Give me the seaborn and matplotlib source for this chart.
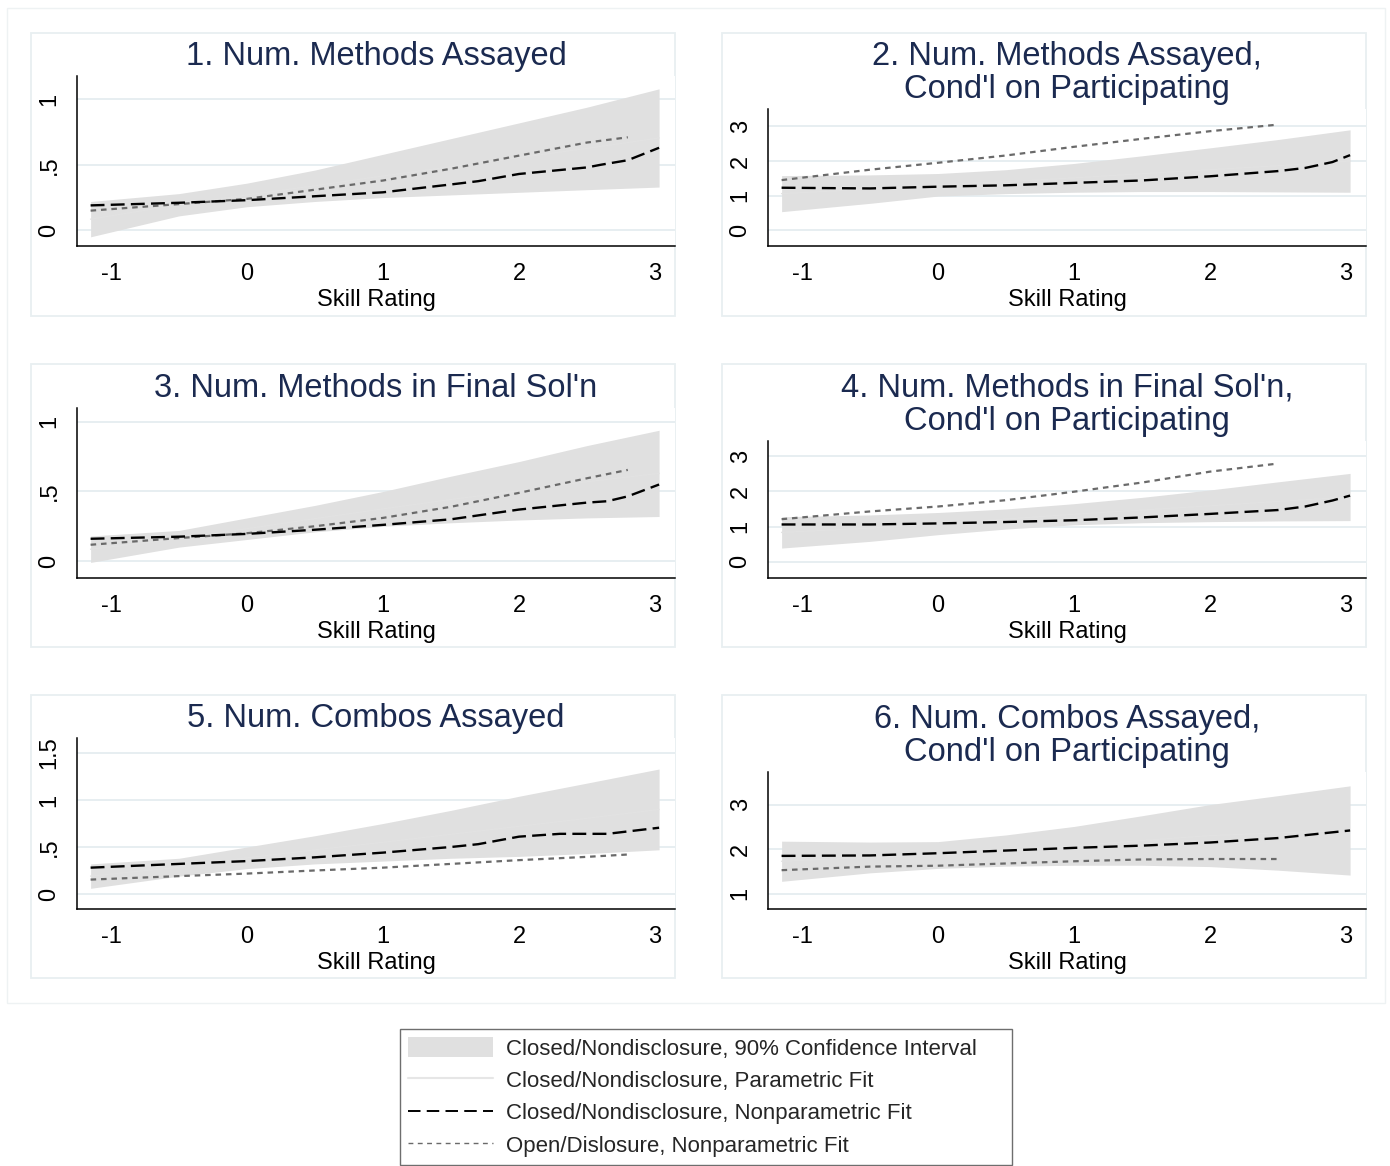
import numpy as np
import pandas as pd
import matplotlib
matplotlib.use("Agg")
import matplotlib.pyplot as plt
import seaborn as sns
from matplotlib.patches import Patch, Rectangle
from matplotlib.lines import Line2D

sns.set_style("white")
plt.rcParams["font.family"] = ["Liberation Sans", "DejaVu Sans"]
plt.rcParams["lines.scale_dashes"] = False

# ---------------- data ----------------
titles = [
    "1. Num. Methods Assayed",
    "2. Num. Methods Assayed,\nCond'l on Participating",
    "3. Num. Methods in Final Sol'n",
    "4. Num. Methods in Final Sol'n,\nCond'l on Participating",
    "5. Num. Combos Assayed",
    "6. Num. Combos Assayed,\nCond'l on Participating",
]
x_label = "Skill Rating"
x_ticks = [-1, 0, 1, 2, 3]
x_ticklabels = ["-1", "0", "1", "2", "3"]

y_ticks_1 = [0, 0.5, 1];        y_ticklabels_1 = ["0", ".5", "1"]
y_ticks_2 = [0, 1, 2, 3];       y_ticklabels_2 = ["0", "1", "2", "3"]
y_ticks_3 = [0, 0.5, 1];        y_ticklabels_3 = ["0", ".5", "1"]
y_ticks_4 = [0, 1, 2, 3];       y_ticklabels_4 = ["0", "1", "2", "3"]
y_ticks_5 = [0, 0.5, 1, 1.5];   y_ticklabels_5 = ["0", ".5", "1", "1.5"]
y_ticks_6 = [1, 2, 3];          y_ticklabels_6 = ["1", "2", "3"]

# 90% CI of the closed/nondisclosure parametric fit
ci_x = [-1.15, -0.5, 0.0, 0.5, 1.0, 1.5, 2.0, 2.5, 3.03]
ci_upper_1 = [0.22, 0.28, 0.36, 0.46, 0.58, 0.70, 0.82, 0.94, 1.08]
ci_lower_1 = [-0.05, 0.11, 0.18, 0.22, 0.25, 0.27, 0.29, 0.31, 0.33]
ci_upper_2 = [1.58, 1.60, 1.64, 1.75, 1.93, 2.15, 2.38, 2.62, 2.90]
ci_lower_2 = [0.54, 0.78, 0.99, 1.06, 1.10, 1.12, 1.12, 1.11, 1.10]
ci_upper_3 = [0.18, 0.22, 0.31, 0.40, 0.50, 0.61, 0.715, 0.83, 0.94]
ci_lower_3 = [-0.01, 0.10, 0.155, 0.21, 0.25, 0.275, 0.295, 0.31, 0.32]
ci_upper_4 = [1.28, 1.33, 1.40, 1.50, 1.65, 1.83, 2.04, 2.27, 2.51]
ci_lower_4 = [0.39, 0.58, 0.77, 0.93, 1.05, 1.11, 1.14, 1.16, 1.17]
ci_upper_5 = [0.32, 0.38, 0.50, 0.62, 0.75, 0.89, 1.04, 1.18, 1.33]
ci_lower_5 = [0.06, 0.19, 0.27, 0.32, 0.35, 0.38, 0.40, 0.43, 0.47]
ci_upper_6 = [2.18, 2.16, 2.17, 2.32, 2.51, 2.75, 3.00, 3.20, 3.42]
ci_lower_6 = [1.28, 1.47, 1.57, 1.62, 1.64, 1.64, 1.61, 1.53, 1.42]

# closed/nondisclosure nonparametric fit
closed_x_1 = [-1.15, -0.5, 0.0, 0.5, 1.0, 1.5, 1.7, 2.0, 2.5, 2.6, 2.8, 3.03]
closed_y_1 = [0.19, 0.21, 0.23, 0.26, 0.29, 0.35, 0.375, 0.43, 0.48, 0.50, 0.535, 0.63]
closed_x_2 = [-1.15, -0.5, 0.0, 0.5, 1.0, 1.5, 2.0, 2.5, 2.7, 2.9, 3.03]
closed_y_2 = [1.23, 1.21, 1.26, 1.30, 1.37, 1.44, 1.56, 1.71, 1.80, 1.97, 2.17]
closed_x_3 = [-1.15, -0.5, 0.0, 0.5, 1.0, 1.5, 2.0, 2.5, 2.65, 2.8, 3.03]
closed_y_3 = [0.16, 0.175, 0.195, 0.225, 0.26, 0.30, 0.37, 0.42, 0.43, 0.465, 0.55]
closed_x_4 = [-1.15, -0.5, 0.0, 0.5, 1.0, 1.5, 2.0, 2.5, 2.7, 2.9, 3.03]
closed_y_4 = [1.06, 1.06, 1.09, 1.13, 1.18, 1.26, 1.36, 1.47, 1.57, 1.74, 1.88]
closed_x_5 = [-1.15, -0.5, 0.0, 0.5, 1.0, 1.5, 1.7, 2.0, 2.3, 2.65, 3.03]
closed_y_5 = [0.28, 0.32, 0.35, 0.39, 0.44, 0.50, 0.53, 0.61, 0.64, 0.64, 0.705]
closed_x_6 = [-1.15, -0.5, 0.0, 0.5, 1.0, 1.5, 2.0, 2.5, 3.03]
closed_y_6 = [1.85, 1.86, 1.91, 1.97, 2.03, 2.08, 2.15, 2.25, 2.42]

# open/disclosure nonparametric fit
open_x_1 = [-1.15, -0.5, 0.0, 0.5, 1.0, 1.5, 2.0, 2.5, 2.8]
open_y_1 = [0.15, 0.20, 0.24, 0.31, 0.38, 0.47, 0.57, 0.67, 0.71]
open_x_2 = [-1.15, -0.5, 0.0, 0.5, 1.0, 1.5, 2.0, 2.5]
open_y_2 = [1.45, 1.75, 1.95, 2.16, 2.41, 2.64, 2.86, 3.05]
open_x_3 = [-1.15, -0.5, 0.0, 0.5, 1.0, 1.5, 2.0, 2.5, 2.8]
open_y_3 = [0.117, 0.165, 0.20, 0.25, 0.31, 0.39, 0.49, 0.595, 0.655]
open_x_4 = [-1.15, -0.5, 0.0, 0.5, 1.0, 1.5, 2.0, 2.5]
open_y_4 = [1.21, 1.43, 1.57, 1.75, 1.99, 2.25, 2.56, 2.79]
open_x_5 = [-1.15, -0.5, 0.0, 0.5, 1.0, 1.5, 2.0, 2.5, 2.8]
open_y_5 = [0.153, 0.19, 0.217, 0.25, 0.28, 0.32, 0.36, 0.395, 0.42]
open_x_6 = [-1.15, -0.5, 0.0, 0.5, 1.0, 1.5, 2.0, 2.5]
open_y_6 = [1.53, 1.61, 1.63, 1.68, 1.73, 1.77, 1.78, 1.78]

legend_labels = [
    "Closed/Nondisclosure, 90% Confidence Interval",
    "Closed/Nondisclosure, Parametric Fit",
    "Closed/Nondisclosure, Nonparametric Fit",
    "Open/Dislosure, Nonparametric Fit",
]

panels = [
    (titles[0], ci_upper_1, ci_lower_1, closed_x_1, closed_y_1, open_x_1, open_y_1, y_ticks_1, y_ticklabels_1),
    (titles[1], ci_upper_2, ci_lower_2, closed_x_2, closed_y_2, open_x_2, open_y_2, y_ticks_2, y_ticklabels_2),
    (titles[2], ci_upper_3, ci_lower_3, closed_x_3, closed_y_3, open_x_3, open_y_3, y_ticks_3, y_ticklabels_3),
    (titles[3], ci_upper_4, ci_lower_4, closed_x_4, closed_y_4, open_x_4, open_y_4, y_ticks_4, y_ticklabels_4),
    (titles[4], ci_upper_5, ci_lower_5, closed_x_5, closed_y_5, open_x_5, open_y_5, y_ticks_5, y_ticklabels_5),
    (titles[5], ci_upper_6, ci_lower_6, closed_x_6, closed_y_6, open_x_6, open_y_6, y_ticks_6, y_ticklabels_6),
]

# ---------------- layout (pixels) ----------------
W, H = 1390, 1166
fig = plt.figure(figsize=(W / 100, H / 100), dpi=100)
fig.patch.set_facecolor("white")

ax_px = [
    (77, 76, 675, 246), (768, 109, 1366, 246),
    (77, 408, 675, 578), (768, 441, 1366, 578),
    (77, 738, 675, 909), (768, 772, 1366, 909),
]
ylims = [(-0.12, 1.178), (-0.45, 3.5), (-0.122, 1.10), (-0.46, 3.43), (-0.16, 1.66), (0.66, 3.73)]
box_px = [
    (31, 33, 675, 316), (722, 33, 1366, 316),
    (31, 364, 675, 647), (722, 364, 1366, 647),
    (31, 695, 675, 978), (722, 695, 1366, 978),
]

def frac_rect(x0, y0, x1, y1):
    return [x0 / W, 1 - y1 / H, (x1 - x0) / W, (y1 - y0) / H]

# outer graph border and panel borders
fig.add_artist(Rectangle((7 / W, 1 - 1003 / H), 1378 / W, 995 / H, transform=fig.transFigure,
                         fill=False, edgecolor="#eef2f3", lw=1.0, zorder=0))
for (x0, y0, x1, y1) in box_px:
    fig.add_artist(Rectangle((x0 / W, 1 - y1 / H), (x1 - x0) / W, (y1 - y0) / H,
                             transform=fig.transFigure, fill=False,
                             edgecolor="#e8eff1", lw=1.3, zorder=0))

band_color = "#e0e0e0"
param_color = "#e2e2e2"
title_color = "#1b2a50"
open_color = "#6a6a6a"
closed_dash = (0, (10, 4.5))
open_dash = (0, (4, 3.5))

for i, (title, up, lo, cx, cy, ox, oy, yt, ytl) in enumerate(panels):
    ax = fig.add_axes(frac_rect(*ax_px[i]))
    ax.set_facecolor("white")
    ax.set_xlim(-1.25, 3.147)
    ax.set_ylim(*ylims[i])

    for t in yt:
        ax.axhline(t, color="#e5edf0", lw=1.3, zorder=0)

    ax.fill_between(ci_x, lo, up, color=band_color, lw=0, zorder=1)
    mid = [(a + b) / 2 for a, b in zip(up, lo)]
    df_par = pd.DataFrame({"skill": ci_x, "value": mid})
    sns.lineplot(data=df_par, x="skill", y="value", ax=ax, color=param_color,
                 lw=1.0, errorbar=None, estimator=None, zorder=2)

    df_closed = pd.DataFrame({"skill": cx, "value": cy})
    sns.lineplot(data=df_closed, x="skill", y="value", ax=ax, color="black",
                 lw=1.7, errorbar=None, estimator=None, zorder=4)
    ax.lines[-1].set_linestyle(closed_dash)

    df_open = pd.DataFrame({"skill": ox, "value": oy})
    sns.lineplot(data=df_open, x="skill", y="value", ax=ax, color=open_color,
                 lw=1.6, errorbar=None, estimator=None, zorder=3)
    ax.lines[-1].set_linestyle(open_dash)

    for s in ["top", "right"]:
        ax.spines[s].set_visible(False)
    for s in ["left", "bottom"]:
        ax.spines[s].set_color("black")
        ax.spines[s].set_linewidth(1.1)

    ax.set_xticks(x_ticks)
    ax.set_xticklabels(x_ticklabels)
    ax.set_yticks(yt)
    ax.set_yticklabels(ytl, rotation=90, va="center")
    ax.tick_params(axis="both", direction="out", length=5.8, width=1.1,
                   color="black", labelsize=17, labelcolor="black")
    ax.tick_params(axis="x", pad=6.5)
    ax.tick_params(axis="y", pad=6)
    ax.set_xlabel(x_label, fontsize=17, labelpad=3, color="black")
    ax.set_ylabel("")
    ax.set_title(title, fontsize=23.5, color=title_color, pad=8, linespacing=1.08)

# ---------------- legend ----------------
handles = [
    Patch(facecolor=band_color, edgecolor="none"),
    Line2D([], [], color="#e6e6e6", lw=1.5),
    Line2D([], [], color="black", lw=1.4, linestyle=(0, (9, 4.5))),
    Line2D([], [], color=open_color, lw=1.0, linestyle=(0, (3.5, 3.2))),
]
leg = fig.legend(handles, legend_labels, loc="center",
                 bbox_to_anchor=(400 / W, 1 - 1164 / H, 612 / W, 134 / H),
                 mode="expand", fontsize=16, frameon=True, fancybox=False,
                 handlelength=3.83, handleheight=1.0, handletextpad=0.59,
                 labelspacing=0.44, borderpad=0.36, borderaxespad=0)
leg.get_frame().set_edgecolor("#4a4a4a")
leg.get_frame().set_linewidth(1.0)

fig.savefig("out.png", dpi=100, facecolor="white")
